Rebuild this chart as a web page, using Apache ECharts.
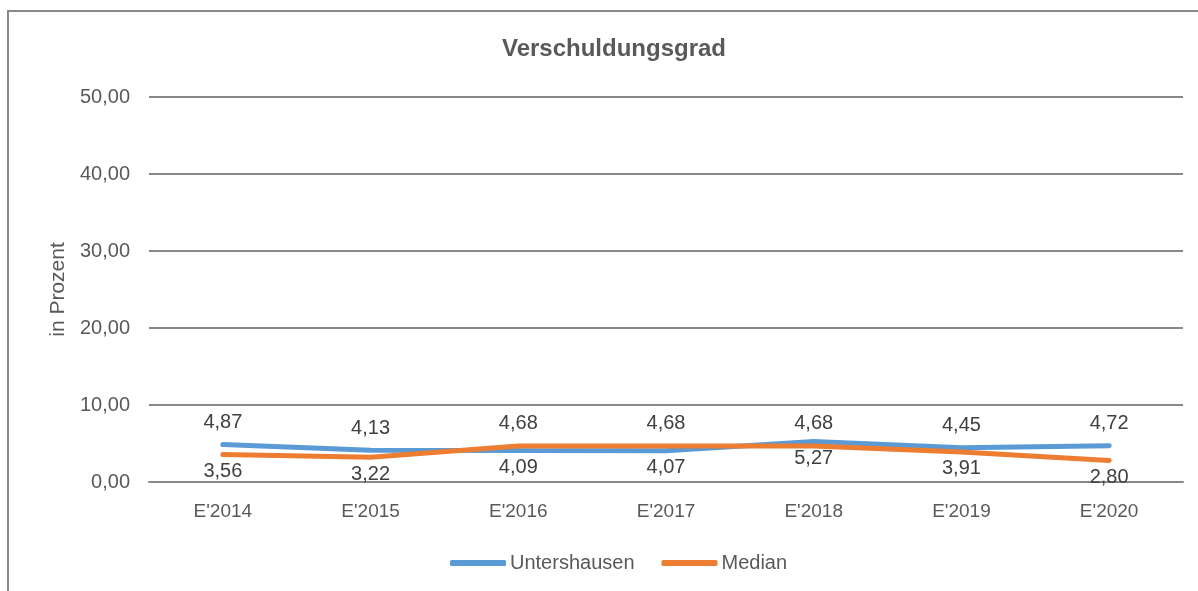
<!DOCTYPE html>
<html>
<head>
<meta charset="utf-8">
<script src="https://cdn.jsdelivr.net/npm/echarts@6/dist/echarts.min.js"></script>
<style>
  html, body { margin: 0; padding: 0; background: #fff; }
  #frame {
    position: absolute; left: 7px; top: 10px; width: 1300px; height: 700px;
    border-left: 2px solid #888; border-top: 2px solid #888;
  }
  #chart { position: absolute; left: 0; top: 0; width: 1198px; height: 591px; }
</style>
</head>
<body>
<div id="frame"></div>
<div id="chart"></div>
<script>
const categories = ["E'2014", "E'2015", "E'2016", "E'2017", "E'2018", "E'2019", "E'2020"];
const untershausen = [4.87, 4.13, 4.09, 4.07, 5.27, 4.45, 4.72];
const median = [3.56, 3.22, 4.68, 4.68, 4.68, 3.91, 2.80];
// Beschriftung oben (true) oder unten (false), wie im Original
const untershausenAbove = [true, true, false, false, false, true, true];

const FONT = "'Liberation Sans Narrow', 'Arial Narrow', 'Liberation Sans', Arial, sans-serif";
const TXT = '#595959';

const fmt = (v) => v.toFixed(2).replace('.', ',');

const withLabels = (vals, above) =>
  vals.map((v, i) => ({
    value: v,
    label: above[i] ? { position: 'top', distance: 12 } : { position: 'bottom', distance: 7 },
  }));

const chart = echarts.init(document.getElementById('chart'));
const labelStyle = {
  show: true,
  color: '#404040',
  fontFamily: FONT,
  fontSize: 20,
  formatter: (p) => fmt(p.value),
};

const option = {
  animation: false,
  title: {
    text: 'Verschuldungsgrad',
    left: 609,
    textAlign: 'center',
    top: 32,
    textStyle: { color: TXT, fontFamily: FONT, fontSize: 24, fontWeight: 'bold' },
  },
  grid: { left: 149, right: 15, top: 97, bottom: 109 },
  legend: {
    top: 548,
    left: 445,
    itemWidth: 56,
    itemHeight: 6,
    itemGap: 27,
    icon: 'roundRect',
    textStyle: { color: TXT, fontFamily: FONT, fontSize: 20, padding: [0, 0, 0, -1] },
    data: ['Untershausen', 'Median'],
  },
  xAxis: {
    type: 'category',
    data: categories,
    boundaryGap: true,
    axisLine: { lineStyle: { color: '#888', width: 2 } },
    axisTick: { show: false },
    axisLabel: { color: TXT, fontFamily: FONT, fontSize: 19, margin: 20 },
  },
  yAxis: {
    type: 'value',
    min: 0,
    max: 50,
    interval: 10,
    name: 'in Prozent',
    nameLocation: 'middle',
    nameGap: 70,
    nameTextStyle: { color: TXT, fontFamily: FONT, fontSize: 21 },
    axisLine: { show: false },
    axisTick: { show: false },
    axisLabel: { color: TXT, fontFamily: FONT, fontSize: 20, margin: 19, formatter: fmt },
    splitLine: { lineStyle: { color: '#888', width: 2 } },
  },
  series: [
    {
      name: 'Untershausen',
      type: 'line',
      data: withLabels(untershausen, untershausenAbove),
      symbol: 'circle',
      symbolSize: 0,
      lineStyle: { color: '#5B9BD5', width: 5, cap: 'round' },
      itemStyle: { color: '#5B9BD5' },
      label: labelStyle,
    },
    {
      name: 'Median',
      type: 'line',
      data: withLabels(median, untershausenAbove.map((a) => !a)),
      symbol: 'circle',
      symbolSize: 0,
      lineStyle: { color: '#ED7D31', width: 5, cap: 'round' },
      itemStyle: { color: '#ED7D31' },
      label: labelStyle,
    },
  ],
};
chart.setOption(option);
</script>
</body>
</html>
